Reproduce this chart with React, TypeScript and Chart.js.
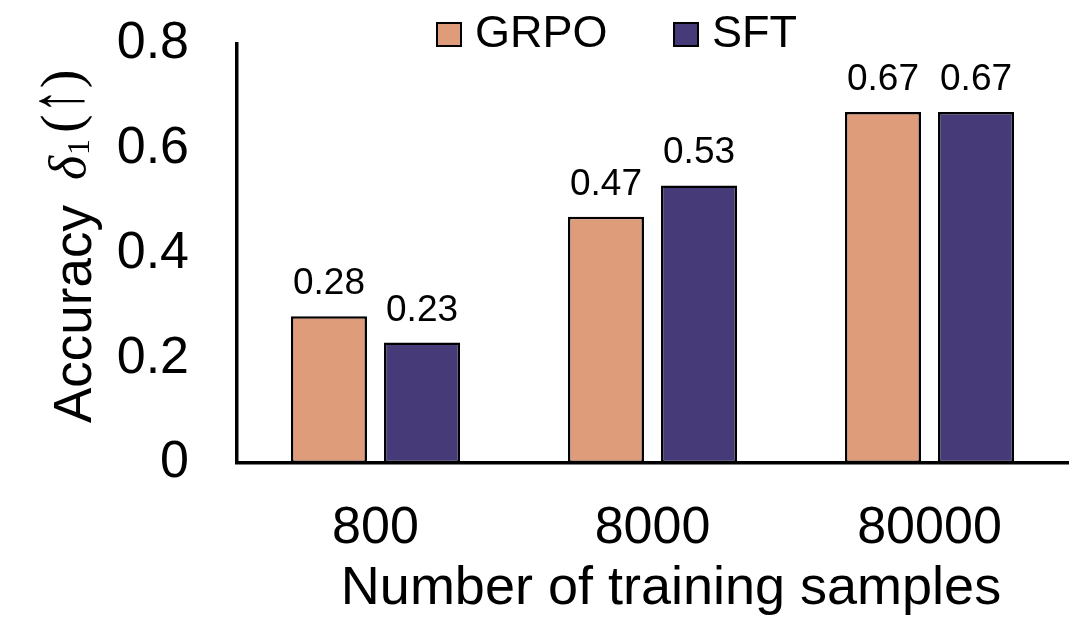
import { useEffect, useRef } from "react";
import { Chart, registerables } from "chart.js";

Chart.register(...registerables);

// Accuracy by training-set size
const categories = ["800", "8000", "80000"];
const grpoValues = [0.28, 0.47, 0.67];
const sftValues = [0.23, 0.53, 0.67];
const seriesNames = ["GRPO", "SFT"];
const seriesColors = ["#DF9C7B", "#463A79"];
const yTickValues = [0, 0.2, 0.4, 0.6, 0.8];
const xTitle = "Number of training samples";
const yTitleParts = ["Accuracy", "δ", "1", "(", "↑", ")"];

const SANS = "'Liberation Sans', Arial, sans-serif";
const SERIF = "'Liberation Serif', 'DejaVu Serif', serif";

const decorations = {
  id: "decorations",
  afterDatasetsDraw(chart: any) {
    const ctx = chart.ctx as CanvasRenderingContext2D;
    ctx.save();
    ctx.fillStyle = "#000";

    // value labels above each bar
    ctx.font = `37px ${SANS}`;
    ctx.textAlign = "center";
    ctx.textBaseline = "alphabetic";
    chart.data.datasets.forEach((ds: any, i: number) => {
      const meta = chart.getDatasetMeta(i);
      meta.data.forEach((bar: any, j: number) => {
        const v = ds.data[j] as number;
        ctx.fillText(v.toFixed(2), bar.x, bar.y - 22);
      });
    });

    // legend
    const legendItems = [
      { x: 436, textX: 475 },
      { x: 673, textX: 712 },
    ];
    ctx.font = `45px ${SANS}`;
    ctx.textAlign = "left";
    legendItems.forEach((it, i) => {
      ctx.fillStyle = seriesColors[i];
      ctx.fillRect(it.x, 22, 26, 25);
      ctx.lineWidth = 2;
      ctx.strokeStyle = "#000";
      ctx.strokeRect(it.x + 1, 23, 24, 23);
      ctx.fillStyle = "#000";
      ctx.fillText(seriesNames[i], it.textX, 47);
    });

    // x axis title
    ctx.font = `54px ${SANS}`;
    ctx.textAlign = "center";
    ctx.fillText(xTitle, 671, 604);

    // y axis title, rotated to read bottom-to-top
    ctx.save();
    ctx.translate(91, 423);
    ctx.rotate(-Math.PI / 2);
    ctx.textAlign = "left";
    ctx.font = `53px ${SANS}`;
    ctx.fillText(yTitleParts[0], 0, 0);
    ctx.font = `italic 52px ${SERIF}`;
    ctx.fillText(yTitleParts[1], 243, -6);
    ctx.font = `32px ${SERIF}`;
    ctx.fillText(yTitleParts[2], 268, -2);
    ctx.font = `56px ${SERIF}`;
    ctx.fillText(yTitleParts[3], 290, -11);
    const openW = ctx.measureText(yTitleParts[3]).width;
    // stretched arrow glyph
    ctx.save();
    ctx.translate(290 + openW + 1, -9);
    ctx.scale(1.1, 1.75);
    ctx.font = `44px ${SERIF}`;
    ctx.fillText(yTitleParts[4], 0, 0);
    const arrowW = ctx.measureText(yTitleParts[4]).width * 1.1;
    ctx.restore();
    ctx.font = `56px ${SERIF}`;
    ctx.fillText(yTitleParts[5], 290 + openW + arrowW + 2, -11);
    ctx.restore();

    ctx.restore();
  },
};

export default function App() {
  const canvasRef = useRef<HTMLCanvasElement | null>(null);

  useEffect(() => {
    document.body.style.margin = "0";
    const canvas = canvasRef.current;
    if (!canvas) return;
    const chart = new Chart(canvas, {
      type: "bar",
      data: {
        labels: categories,
        datasets: [
          {
            label: seriesNames[0],
            data: grpoValues,
            backgroundColor: seriesColors[0],
            borderColor: "#000",
            borderWidth: 2.5,
            borderSkipped: false,
            categoryPercentage: 0.672,
            barPercentage: 0.817,
          },
          {
            label: seriesNames[1],
            data: sftValues,
            backgroundColor: seriesColors[1],
            borderColor: "#000",
            borderWidth: 2.5,
            borderSkipped: false,
            categoryPercentage: 0.672,
            barPercentage: 0.817,
          },
        ],
      },
      options: {
        responsive: false,
        animation: false,
        layout: { padding: { top: 44, right: 16, left: 0, bottom: 0 } },
        plugins: {
          legend: { display: false },
          tooltip: { enabled: false },
        },
        scales: {
          x: {
            grid: { display: false, drawTicks: false },
            border: { display: true, color: "#000", width: 3.5 },
            ticks: {
              color: "#000",
              font: { family: SANS, size: 52 },
              padding: 34,
              maxRotation: 0,
            },
            afterFit: (scale: any) => {
              scale.height = 157;
            },
          },
          y: {
            min: 0,
            max: 0.8,
            grid: { display: false, drawTicks: false },
            border: { display: true, color: "#000", width: 3.5 },
            ticks: {
              stepSize: 0.2,
              color: "#000",
              font: { family: SANS, size: 52 },
              padding: 48,
              callback: (v: any) => {
                const n = Number(v);
                const t = yTickValues.find((tv) => Math.abs(tv - n) < 1e-6);
                return t === undefined ? "" : String(t);
              },
            },
            afterFit: (scale: any) => {
              scale.width = 237;
              scale.paddingTop = 0;
              scale.paddingBottom = 0;
            },
          },
        },
      },
      plugins: [decorations],
    });
    return () => chart.destroy();
  }, []);

  return (
    <div style={{ position: "absolute", left: 0, top: 0, width: 1084, height: 620, background: "#fff" }}>
      <canvas ref={canvasRef} width={1084} height={620} />
    </div>
  );
}
